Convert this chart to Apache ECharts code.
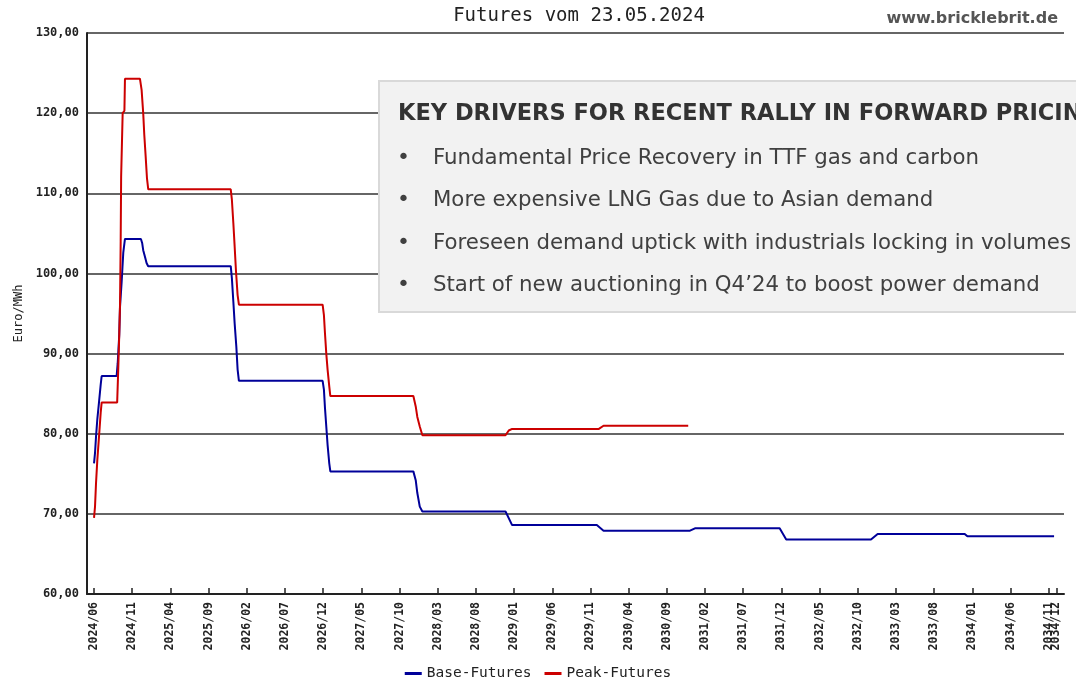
<!DOCTYPE html>
<html>
<head>
<meta charset="utf-8">
<script src="https://cdn.jsdelivr.net/npm/echarts@6/dist/echarts.min.js"></script>
<style>
  html, body { margin: 0; padding: 0; background: #fff; }
  #main { width: 1076px; height: 684px; }
</style>
</head>
<body>
<div id="main"></div>
<script>
// Monatsindex: 0 = 2024/06
var baseMonths = [0, 0.13, 0.26, 0.43, 0.65, 0.87, 1.0, 2.96, 3.1, 3.3, 3.4, 3.62, 3.83, 4.05,
  6.14, 6.3, 6.44, 6.66, 6.88, 7.09, 17.9, 18.05, 18.24, 18.41, 18.63, 18.8, 18.97,
  29.93, 30.1, 30.24, 30.41, 30.58, 30.8, 30.94, 41.81, 42.12, 42.33, 42.65, 42.99,
  53.88, 54.74, 65.83, 66.71, 78.03, 78.68, 89.77, 90.63, 101.73, 102.6, 114.0, 114.35, 125.7];
var baseValues = [76.3, 77.6, 79.6, 81.8, 83.9, 86.1, 87.2, 87.2, 88.8, 92.3, 95.8, 99.0, 102.6, 104.3,
  104.3, 103.8, 102.9, 102.1, 101.3, 100.9, 100.9, 99.4, 96.5, 93.8, 90.9, 88.0, 86.6,
  86.6, 85.5, 83.2, 80.9, 78.6, 76.3, 75.3, 75.3, 74.2, 72.6, 70.9, 70.3,
  70.3, 68.6, 68.6, 67.9, 67.9, 68.2, 68.2, 66.8, 66.8, 67.5, 67.5, 67.2, 67.2];

var peakMonths = [0, 0.13, 0.26, 0.43, 0.65, 0.87, 1.0, 3.03, 3.17, 3.3, 3.4, 3.49, 3.55, 3.72, 3.75, 3.98, 4.05,
  6.01, 6.23, 6.44, 6.58, 6.76, 6.93, 7.1, 17.9, 18.05, 18.24, 18.41, 18.58, 18.8, 18.97,
  29.93, 30.1, 30.24, 30.41, 30.58, 30.8, 30.94, 41.81, 42.12, 42.33, 42.65, 42.99,
  53.88, 54.3, 54.74, 66.1, 66.71, 77.8];
var peakValues = [69.5, 70.9, 73.8, 76.7, 79.6, 82.6, 83.9, 83.9, 88.0, 92.3, 96.0, 104.0, 112.1, 112.3, 120.0, 120.3, 124.3,
  124.3, 122.9, 120.0, 117.3, 114.6, 111.9, 110.5, 110.5, 109.2, 106.3, 103.4, 100.4, 97.3, 96.1,
  96.1, 94.8, 92.5, 90.0, 88.0, 85.9, 84.7, 84.7, 83.4, 82.1, 80.9, 79.8,
  79.8, 80.4, 80.6, 80.6, 81.0, 81.0];

// Achsenbeschriftung alle 5 Monate, dazu der letzte Monat 2034/12 (eigene Achse, sonst blendet ECharts 2034/11 aus)
var tickMonths = [0, 5, 10, 15, 20, 25, 30, 35, 40, 45, 50, 55, 60, 65, 70, 75, 80, 85, 90,
  95, 100, 105, 110, 115, 120, 125];
var lastMonth = [126];

var seriesNames = ['Base-Futures', 'Peak-Futures'];
var titleText = 'Futures vom 23.05.2024';
var driversTitle = 'KEY DRIVERS FOR RECENT RALLY IN FORWARD PRICING';
var driversLines = [
  'Fundamental Price Recovery in TTF gas and carbon',
  'More expensive LNG Gas due to Asian demand',
  'Foreseen demand uptick with industrials locking in volumes',
  'Start of new auctioning in Q4\u201924 to boost power demand'
];

var mono = '"DejaVu Sans Mono", monospace';
var boxFont = '"DejaVu Sans", sans-serif';

function monthLabel(v) {
  var total = 2024 * 12 + 5 + Math.round(v);
  var y = Math.floor(total / 12);
  var m = total % 12 + 1;
  return y + '/' + (m < 10 ? '0' + m : m);
}

function pairs(xs, ys) {
  return xs.map(function (x, i) { return [x, ys[i]]; });
}

var myChart = echarts.init(document.getElementById('main'));

// Textblock rechts oben
var graphics = [{
  type: 'rect',
  left: 378, top: 80,
  shape: { width: 720, height: 231 },
  style: { fill: '#f2f2f2', stroke: '#d9d9d9', lineWidth: 2 },
  z: 100
}, {
  type: 'text',
  x: 398, y: 114,
  style: { text: driversTitle, font: 'bold 22.5px ' + boxFont, fill: '#333', verticalAlign: 'middle' },
  z: 101
}];
driversLines.forEach(function (t, i) {
  var y = 158 + i * 42.5;
  graphics.push({
    type: 'text', x: 397, y: y,
    style: { text: '\u2022', font: '22px ' + boxFont, fill: '#404040', verticalAlign: 'middle' },
    z: 101
  });
  graphics.push({
    type: 'text', x: 433, y: y,
    style: { text: t, font: '21.3px ' + boxFont, fill: '#404040', verticalAlign: 'middle' },
    z: 101
  });
});
graphics.push({
  type: 'text', right: 18, top: 11,
  style: { text: 'www.bricklebrit.de', font: 'bold 16px "DejaVu Sans", sans-serif', fill: '#555' },
  z: 101
});

var labelStyle = {
  rotate: 90,
  margin: 8,
  fontFamily: mono, fontSize: 11.5, fontWeight: 'bold', color: '#222',
  formatter: monthLabel
};

var option = {
  animation: false,
  title: {
    text: titleText,
    left: 574, top: 2,
    textAlign: 'center',
    textStyle: { fontFamily: mono, fontSize: 19, fontWeight: 'normal', color: '#222' }
  },
  legend: {
    data: seriesNames,
    top: 661,
    left: 'center',
    icon: 'rect',
    itemWidth: 17, itemHeight: 3,
    itemGap: 13,
    textStyle: { fontFamily: mono, fontSize: 14.5, color: '#222' }
  },
  grid: { left: 87, top: 33, right: 12, bottom: 90 },
  xAxis: [{
    type: 'value',
    min: -0.92, max: 127,
    axisLine: { show: true, onZero: false, lineStyle: { color: '#222', width: 2 } },
    axisTick: { show: true, inside: true, length: 6, customValues: tickMonths, lineStyle: { color: '#222', width: 1.5 } },
    splitLine: { show: false },
    axisLabel: Object.assign({ customValues: tickMonths }, labelStyle)
  }, {
    type: 'value',
    position: 'bottom',
    min: -0.92, max: 127,
    axisLine: { show: false, onZero: false },
    axisTick: { show: true, inside: true, length: 6, customValues: lastMonth, lineStyle: { color: '#222', width: 1.5 } },
    splitLine: { show: false },
    axisLabel: Object.assign({ customValues: lastMonth }, labelStyle)
  }],
  yAxis: {
    type: 'value',
    min: 60, max: 130, interval: 10,
    name: 'Euro/MWh',
    nameLocation: 'middle',
    nameGap: 62,
    nameRotate: 90,
    nameTextStyle: { fontFamily: mono, fontSize: 12, color: '#222' },
    axisLine: { show: true, onZero: false, lineStyle: { color: '#222', width: 2 } },
    axisTick: { show: false },
    splitLine: { show: true, lineStyle: { color: '#333', width: 1.5 } },
    axisLabel: {
      margin: 8,
      fontFamily: mono, fontSize: 12, fontWeight: 'bold', color: '#222',
      formatter: function (v) { return v.toFixed(2).replace('.', ','); }
    }
  },
  series: [{
    name: seriesNames[0],
    type: 'line',
    data: pairs(baseMonths, baseValues),
    showSymbol: false,
    color: '#000099',
    lineStyle: { color: '#000099', width: 2 }
  }, {
    name: seriesNames[1],
    type: 'line',
    data: pairs(peakMonths, peakValues),
    showSymbol: false,
    color: '#cc0000',
    lineStyle: { color: '#cc0000', width: 2 }
  }],
  graphic: graphics
};

myChart.setOption(option);
</script>
</body>
</html>
